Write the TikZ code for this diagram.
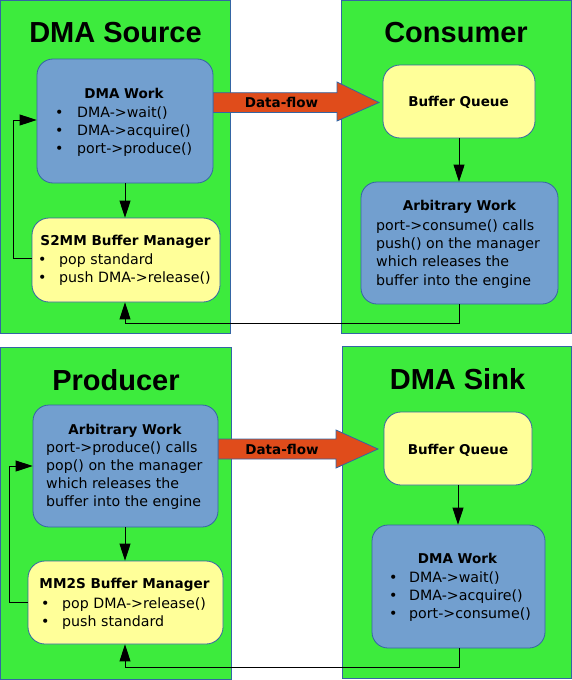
\documentclass[tikz,border=0pt]{standalone}
\usepackage{fontspec}
\setmainfont{DejaVu Sans}
\newfontfamily\titlefont{Liberation Sans}
\usetikzlibrary{arrows.meta}
\definecolor{panelgreen}{HTML}{3DEB3D}
\definecolor{edgeblue}{HTML}{3465A4}
\definecolor{workblue}{HTML}{729FCF}
\definecolor{bufyellow}{HTML}{FFFF99}
\definecolor{floworange}{HTML}{E04C1B}
\tikzset{
  panel/.style={draw=edgeblue, fill=panelgreen, line width=1pt},
  workbox/.style={draw=edgeblue, fill=workblue, line width=0.8pt, rounded corners=16pt, inner sep=0pt},
  bufbox/.style={draw=edgeblue, fill=bufyellow, line width=0.8pt, rounded corners=17pt, inner sep=0pt},
  flowarrow/.style={draw=edgeblue, fill=floworange, line width=0.8pt},
  paneltitle/.style={anchor=base, inner sep=0pt, font=\titlefont\bfseries\fontsize{29}{34}\selectfont},
  boxtitle/.style={anchor=base, inner sep=0pt, font=\bfseries\fontsize{13.5}{18}\selectfont},
  mgrtitle/.style={anchor=base, inner sep=0pt, font=\bfseries\fontsize{13.6}{18}\selectfont},
  bodytext/.style={anchor=base west, inner sep=0pt, font=\fontsize{14.2}{18.2}\selectfont},
  flowlabel/.style={anchor=base, inner sep=0pt, font=\bfseries\fontsize{13.5}{16}\selectfont},
  conn/.style={draw=black, line width=0.9pt, -{Triangle[length=17pt,width=11pt]}}
}
\begin{document}
\begin{tikzpicture}[x=1pt,y=-1pt]
\useasboundingbox (0,0) rectangle (572,680);
% panels
\draw[panel] (0.5,0.5) rectangle (230,333);
\draw[panel] (341,0.5) rectangle (571.5,333);
\draw[panel] (0.5,347) rectangle (231,679.5);
\draw[panel] (342,346) rectangle (571.5,678);
% panel titles
\node[paneltitle] (t1) at (115.5,42) {DMA Source};
\node[paneltitle] (t2) at (456,42.5) {Consumer};
\node[paneltitle] (t3) at (116,390) {Producer};
\node[paneltitle] (t4) at (457.5,389.5) {DMA Sink};
% data-flow arrows
\draw[flowarrow] (213,92.7) -- (337,92.7) -- (337,82) -- (379,102.5) -- (337,121) -- (337,112.5) -- (213,112.5) -- cycle;
\node[flowlabel] (f1) at (281.5,107.3) {Data-flow};
\draw[flowarrow] (218,439) -- (336,439) -- (336,430) -- (378,449) -- (336,468) -- (336,459) -- (218,459) -- cycle;
\node[flowlabel] (f2) at (282,454.5) {Data-flow};
% top-left boxes
\node[workbox, minimum width=176pt, minimum height=124pt] (dw1) at (125,121) {};
\node[boxtitle] (dw1t) at (124,98) {DMA Work};
\node[bodytext] (dw1b) at (55,117.3) {\begin{tabular}[t]{@{}p{22pt}@{}l@{}}•&DMA->wait()\\•&DMA->acquire()\\•&port->produce()\end{tabular}};
\node[bufbox, minimum width=188pt, minimum height=84pt] (mg1) at (126,260) {};
\node[mgrtitle] (mg1t) at (125.5,245.5) {S2MM Buffer Manager};
\node[bodytext] (mg1b) at (38,264) {\begin{tabular}[t]{@{}p{21pt}@{}l@{}}•&pop standard\\•&push DMA->release()\end{tabular}};
% top-right boxes
\node[bufbox, minimum width=152pt, minimum height=73pt] (bq1) at (459,101.5) {};
\node[boxtitle] (bq1t) at (458.5,106.5) {Buffer Queue};
\node[workbox, minimum width=197pt, minimum height=122pt] (aw1) at (459.5,243) {};
\node[boxtitle] (aw1t) at (459.5,210.5) {Arbitrary Work};
\node[bodytext] (aw1b) at (376,230.5) {\begin{tabular}[t]{@{}l@{}}port->consume() calls\\push() on the manager\\which releases the\\buffer into the engine\end{tabular}};
% bottom-left boxes
\node[workbox, minimum width=185pt, minimum height=122pt] (aw2) at (125.5,466) {};
\node[boxtitle] (aw2t) at (125,434) {Arbitrary Work};
\node[bodytext] (aw2b) at (46,452.3) {\begin{tabular}[t]{@{}l@{}}port->produce() calls\\pop() on the manager\\which releases the\\buffer into the engine\end{tabular}};
\node[bufbox, minimum width=195pt, minimum height=83pt] (mg2) at (125.5,602.5) {};
\node[mgrtitle] (mg2t) at (124.5,588) {MM2S Buffer Manager};
\node[bodytext] (mg2b) at (41,608) {\begin{tabular}[t]{@{}p{21pt}@{}l@{}}•&pop DMA->release()\\•&push standard\end{tabular}};
% bottom-right boxes
\node[bufbox, minimum width=148pt, minimum height=73pt] (bq2) at (458,448.5) {};
\node[boxtitle] (bq2t) at (458,454) {Buffer Queue};
\node[workbox, minimum width=173pt, minimum height=123pt] (dw2) at (458.5,586.5) {};
\node[boxtitle] (dw2t) at (457.5,563) {DMA Work};
\node[bodytext] (dw2b) at (389,582) {\begin{tabular}[t]{@{}p{20pt}@{}l@{}}•&DMA->wait()\\•&DMA->acquire()\\•&port->consume()\end{tabular}};
% connectors top
\coordinate (l1a) at (13,258);
\coordinate (l1b) at (13,120);
\coordinate (b1a) at (459,323);
\coordinate (b1b) at (125,323);
\draw[conn] (dw1.south -| b1b) -- (mg1.north -| b1b);
\draw[conn] (mg1.west |- l1a) -- (l1a) -- (l1b) -- (dw1.west |- l1b);
\draw[conn] (bq1.south -| b1a) -- (aw1.north -| b1a);
\draw[conn] (aw1.south -| b1a) -- (b1a) -- (b1b) -- (mg1.south -| b1b);
% connectors bottom
\coordinate (l2a) at (9,602);
\coordinate (l2b) at (9,466);
\coordinate (b2a) at (459,667);
\coordinate (b2b) at (125,667);
\draw[conn] (aw2.south -| b2b) -- (mg2.north -| b2b);
\draw[conn] (mg2.west |- l2a) -- (l2a) -- (l2b) -- (aw2.west |- l2b);
\draw[conn] (bq2.south) -- (dw2.north -| bq2.south);
\draw[conn] (dw2.south -| b2a) -- (b2a) -- (b2b) -- (mg2.south -| b2b);
\end{tikzpicture}
\end{document}
